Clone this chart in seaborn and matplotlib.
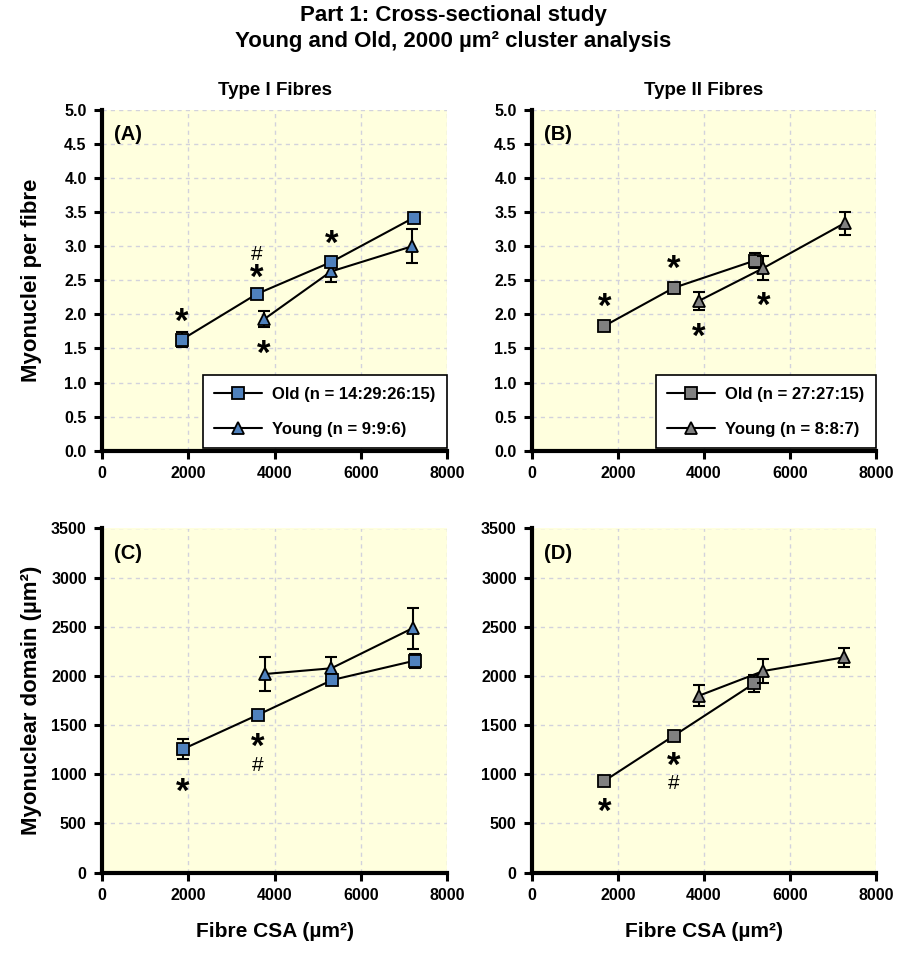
import matplotlib
matplotlib.use("Agg")
import matplotlib.pyplot as plt
import seaborn as sns
import pandas as pd
from matplotlib.ticker import MultipleLocator, FormatStrFormatter

# ---------------- data ----------------
# Panel A: Type I fibres, myonuclei per fibre
a_old_x = [1850, 3590, 5320, 7230]
a_old_y = [1.63, 2.30, 2.77, 3.42]
a_old_err = [0.11, 0.04, 0.05, 0.07]
a_young_x = [3760, 5310, 7190]
a_young_y = [1.93, 2.63, 3.00]
a_young_err = [0.12, 0.16, 0.25]
a_star_x = [1850, 3590, 5320, 3760]
a_star_y = [1.97, 2.62, 3.12, 1.50]
a_hash_x = [3590]
a_hash_y = [2.91]

# Panel B: Type II fibres, myonuclei per fibre
b_old_x = [1680, 3295, 5180]
b_old_y = [1.83, 2.39, 2.79]
b_old_err = [0.05, 0.05, 0.11]
b_young_x = [3885, 5380, 7270]
b_young_y = [2.20, 2.68, 3.34]
b_young_err = [0.13, 0.18, 0.17]
b_star_x = [1680, 3295, 3885, 5380]
b_star_y = [2.19, 2.75, 1.75, 2.21]
b_hash_x = []
b_hash_y = []

# Panel C: Type I fibres, myonuclear domain
c_old_x = [1870, 3610, 5340, 7250]
c_old_y = [1254, 1603, 1959, 2155]
c_old_err = [100, 40, 50, 70]
c_young_x = [3790, 5320, 7200]
c_young_y = [2020, 2078, 2485]
c_young_err = [175, 115, 210]
c_star_x = [1860, 3600]
c_star_y = [873, 1331]
c_hash_x = [3600]
c_hash_y = [1111]

# Panel D: Type II fibres, myonuclear domain
d_old_x = [1680, 3300, 5170]
d_old_y = [931, 1392, 1925]
d_old_err = [40, 40, 85]
d_young_x = [3885, 5380, 7265]
d_young_y = [1799, 2050, 2190]
d_young_err = [110, 118, 97]
d_star_x = [1680, 3300]
d_star_y = [670, 1145]
d_hash_x = [3300]
d_hash_y = [924]

old_labels = ["Old (n = 14:29:26:15)", "Old (n = 27:27:15)"]
young_labels = ["Young (n = 9:9:6)", "Young (n = 8:8:7)"]
panel_letters = ["(A)", "(B)", "(C)", "(D)"]
col_titles = ["Type I Fibres", "Type II Fibres"]
y_labels = ["Myonuclei per fibre", "Myonuclear domain (µm²)"]
x_label = "Fibre CSA (µm²)"
title_text = "Part 1: Cross-sectional study\nYoung and Old, 2000 µm² cluster analysis"
x_ticks = [0, 2000, 4000, 6000, 8000]

# ---------------- style ----------------
sns.set_style("ticks")
plt.rcParams["font.family"] = ["Liberation Sans", "DejaVu Sans"]
plt.rcParams["font.weight"] = "bold"
plt.rcParams["axes.labelweight"] = "bold"
for k in ["text.color", "axes.labelcolor", "xtick.color", "ytick.color", "axes.edgecolor"]:
    plt.rcParams[k] = "black"

BG = "#FFFFDE"
BLUE = "#4F81BD"
GREY = "#808080"

W, H = 907, 955
fig = plt.figure(figsize=(W / 100, H / 100), dpi=100)


def px_axes(l, r, t, b):
    return fig.add_axes([l / W, 1 - b / H, (r - l) / W, (b - t) / H])


axA = px_axes(102, 447, 110, 450.7)
axB = px_axes(532, 876, 110, 450.7)
axC = px_axes(102, 447, 528.5, 872.5)
axD = px_axes(532, 876, 528.5, 872.5)

panels = [
    dict(ax=axA, ox=a_old_x, oy=a_old_y, oe=a_old_err, yx=a_young_x, yy=a_young_y, ye=a_young_err,
         sx=a_star_x, sy=a_star_y, hx=a_hash_x, hy=a_hash_y, col=BLUE, top=True, old_last=True, idx=0),
    dict(ax=axB, ox=b_old_x, oy=b_old_y, oe=b_old_err, yx=b_young_x, yy=b_young_y, ye=b_young_err,
         sx=b_star_x, sy=b_star_y, hx=b_hash_x, hy=b_hash_y, col=GREY, top=True, old_last=False, idx=1),
    dict(ax=axC, ox=c_old_x, oy=c_old_y, oe=c_old_err, yx=c_young_x, yy=c_young_y, ye=c_young_err,
         sx=c_star_x, sy=c_star_y, hx=c_hash_x, hy=c_hash_y, col=BLUE, top=False, old_last=True, idx=2),
    dict(ax=axD, ox=d_old_x, oy=d_old_y, oe=d_old_err, yx=d_young_x, yy=d_young_y, ye=d_young_err,
         sx=d_star_x, sy=d_star_y, hx=d_hash_x, hy=d_hash_y, col=GREY, top=False, old_last=False, idx=3),
]

STAR_FS = 25
HASH_FS = 15

for p in panels:
    ax = p["ax"]
    col_i = p["idx"] % 2
    ax.set_facecolor(BG)

    def draw(x, y, e, marker, label, z):
        ax.errorbar(x, y, yerr=e, fmt="none", ecolor="black", elinewidth=1.5,
                    capsize=4, capthick=1.5, zorder=z)
        sns.lineplot(x=x, y=y, ax=ax, color="black", linewidth=1.5, marker=marker,
                     markersize=9, markerfacecolor=p["col"], markeredgecolor="black",
                     markeredgewidth=1.3, label=label, estimator=None, errorbar=None,
                     zorder=z + 0.5)

    old_lab = old_labels[col_i]
    young_lab = young_labels[col_i]
    if p["old_last"]:
        draw(p["yx"], p["yy"], p["ye"], "^", young_lab, 3)
        draw(p["ox"], p["oy"], p["oe"], "s", old_lab, 5)
    else:
        draw(p["ox"], p["oy"], p["oe"], "s", old_lab, 3)
        draw(p["yx"], p["yy"], p["ye"], "^", young_lab, 5)

    # significance marks
    for sx, sy in zip(p["sx"], p["sy"]):
        ax.annotate("*", (sx, sy), xytext=(0, -0.45 * STAR_FS), textcoords="offset points",
                    ha="center", va="baseline", fontsize=STAR_FS, fontweight="bold", zorder=8)
    for hx, hy in zip(p["hx"], p["hy"]):
        ax.annotate("#", (hx, hy), xytext=(0, -0.35 * HASH_FS), textcoords="offset points",
                    ha="center", va="baseline", fontsize=HASH_FS, fontweight="normal", zorder=8)

    ax.set_xlim(0, 8000)
    ax.set_xticks(x_ticks)
    if p["top"]:
        ax.set_ylim(0, 5)
        ax.yaxis.set_major_locator(MultipleLocator(0.5))
        ax.yaxis.set_major_formatter(FormatStrFormatter("%.1f"))
    else:
        ax.set_ylim(0, 3500)
        ax.yaxis.set_major_locator(MultipleLocator(500))

    ax.grid(True, color="#d2d2dc", linestyle=(0, (3, 3)), linewidth=1.0)
    ax.set_axisbelow(True)
    for s in ["top", "right"]:
        ax.spines[s].set_visible(False)
    for s in ["left", "bottom"]:
        ax.spines[s].set_linewidth(3.0)
        ax.spines[s].set_color("black")
    ax.tick_params(direction="out", length=6, width=2.2, labelsize=11.5, pad=5,
                   colors="black", labelcolor="black")
    for lab in ax.get_xticklabels() + ax.get_yticklabels():
        lab.set_fontweight("bold")

    ax.text(0.035, 0.955, panel_letters[p["idx"]], transform=ax.transAxes, fontsize=14.5,
            fontweight="bold", ha="left", va="top", color="black")

    ax.set_xlabel("")
    ax.set_ylabel("")
    if p["top"]:
        handles, labels = ax.get_legend_handles_labels()
        order = [labels.index(old_lab), labels.index(young_lab)]
        leg = ax.legend([handles[i] for i in order], [labels[i] for i in order],
                        loc="lower right", bbox_to_anchor=(1.0, 0.008), borderaxespad=0,
                        frameon=True, fancybox=False, framealpha=1, edgecolor="black",
                        prop={"weight": "bold", "size": 12}, handlelength=2.9,
                        handletextpad=0.6, labelspacing=1.2, borderpad=0.68, numpoints=1)
        leg.get_frame().set_linewidth(1.2)
        for t in leg.get_texts():
            t.set_color("black")
        ax.set_title(col_titles[col_i], fontsize=13.5, fontweight="bold", pad=11, color="black")
    else:
        if ax.get_legend() is not None:
            ax.get_legend().remove()
        ax.set_xlabel(x_label, fontsize=15, fontweight="bold", color="black")
        ax.xaxis.set_label_coords(0.5, -0.143)
    if col_i == 0:
        ax.set_ylabel(y_labels[0 if p["top"] else 1], fontsize=16, fontweight="bold", color="black")
        ax.yaxis.set_label_coords(-0.175, 0.5)

fig.text(0.5, 1 - 5 / H, title_text, ha="center", va="top", fontsize=16,
         fontweight="bold", linespacing=1.3, color="black")

fig.savefig("out.png", dpi=100)
